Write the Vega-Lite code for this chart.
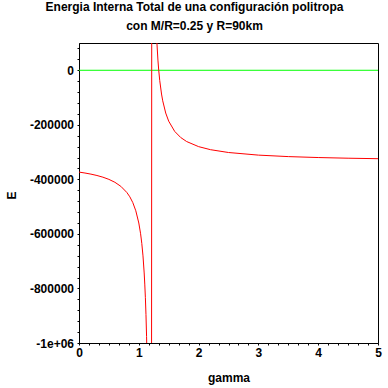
{
  "$schema": "https://vega.github.io/schema/vega-lite/v6.json",
  "width": 299,
  "height": 300,
  "autosize": {"type": "none"},
  "padding": {"left": 79, "top": 43, "right": 10, "bottom": 45},
  "background": "white",
  "config": {
    "view": {"stroke": "black", "strokeWidth": 1},
    "font": "Liberation Sans"
  },
  "title": {
    "text": ["Energia Interna Total de una configuración politropa", "con M/R=0.25 y R=90km"],
    "font": "Liberation Sans",
    "fontSize": 12,
    "fontWeight": "bold",
    "color": "black",
    "anchor": "middle",
    "dx": -34,
    "baseline": "bottom",
    "offset": -2.5,
    "lineHeight": 19
  },
  "resolve": {"axis": {"x": "independent", "y": "independent"}},
  "layer": [
    {
      "data": {"values": [{"E": 0}]},
      "mark": {"type": "rule", "color": "#00ff00", "strokeWidth": 1},
      "encoding": {
        "y": {"field": "E", "type": "quantitative", "scale": {"domain": [-1000000, 100000], "nice": false, "zero": false}, "axis": null}
      }
    },
    {
      "data": {"values": [
        {"gamma": 0, "E": -373333},
        {"gamma": 0.1, "E": -376727},
        {"gamma": 0.2, "E": -380800},
        {"gamma": 0.3, "E": -385778},
        {"gamma": 0.4, "E": -392000},
        {"gamma": 0.5, "E": -400000},
        {"gamma": 0.6, "E": -410667},
        {"gamma": 0.7, "E": -425600},
        {"gamma": 0.8, "E": -448000},
        {"gamma": 0.85, "E": -464000},
        {"gamma": 0.9, "E": -485333},
        {"gamma": 0.95, "E": -515200},
        {"gamma": 1.0, "E": -560000},
        {"gamma": 1.03, "E": -599529},
        {"gamma": 1.05, "E": -634667},
        {"gamma": 1.07, "E": -680615},
        {"gamma": 1.09, "E": -743273},
        {"gamma": 1.1, "E": -784000},
        {"gamma": 1.11, "E": -833778},
        {"gamma": 1.12, "E": -896000},
        {"gamma": 1.13, "E": -976000},
        {"gamma": 1.14, "E": -1082667},
        {"gamma": 1.16, "E": -1456000},
        {"gamma": 1.195, "E": -9296000},
        {"gamma": 1.22, "E": 1904000},
        {"gamma": 1.25, "E": 560000},
        {"gamma": 1.28, "E": 224000},
        {"gamma": 1.3, "E": 112000},
        {"gamma": 1.32, "E": 37333},
        {"gamma": 1.3333, "E": 0},
        {"gamma": 1.35, "E": -37333},
        {"gamma": 1.38, "E": -87111},
        {"gamma": 1.4, "E": -112000},
        {"gamma": 1.45, "E": -156800},
        {"gamma": 1.5, "E": -186667},
        {"gamma": 1.6, "E": -224000},
        {"gamma": 1.7, "E": -246400},
        {"gamma": 1.8, "E": -261333},
        {"gamma": 2.0, "E": -280000},
        {"gamma": 2.2, "E": -291200},
        {"gamma": 2.5, "E": -301538},
        {"gamma": 3.0, "E": -311111},
        {"gamma": 3.5, "E": -316522},
        {"gamma": 4.0, "E": -320000},
        {"gamma": 4.5, "E": -322424},
        {"gamma": 5.0, "E": -324211}
      ]},
      "mark": {"type": "line", "color": "#ff0000", "strokeWidth": 1, "clip": true},
      "encoding": {
        "x": {
          "field": "gamma", "type": "quantitative",
          "scale": {"domain": [0, 5], "nice": false, "zero": false},
          "axis": {
            "title": "gamma",
            "values": [0, 0.1667, 0.3333, 0.5, 0.6667, 0.8333, 1, 1.1667, 1.3333, 1.5, 1.6667, 1.8333, 2, 2.1667, 2.3333, 2.5, 2.6667, 2.8333, 3, 3.1667, 3.3333, 3.5, 3.6667, 3.8333, 4, 4.1667, 4.3333, 4.5, 4.6667, 4.8333, 5],
            "labelExpr": "abs(datum.value - round(datum.value)) < 0.001 ? format(round(datum.value), 'd') : ''",
            "grid": false,
            "tickSize": 2,
            "tickColor": "black",
            "domainColor": "black",
            "labelFont": "Liberation Sans",
            "labelFontWeight": "bold",
            "labelFontSize": 12,
            "labelColor": "black",
            "labelPadding": 2,
            "labelFlush": false,
            "labelOverlap": false,
            "titleFont": "Liberation Sans",
            "titleFontWeight": "bold",
            "titleFontSize": 12,
            "titleColor": "black",
            "titleX": 149.5,
            "titleY": 38.7,
            "titleBaseline": "alphabetic",
            "titleAlign": "center"
          }
        },
        "y": {
          "field": "E", "type": "quantitative",
          "scale": {"domain": [-1000000, 100000], "nice": false, "zero": false},
          "axis": {
            "title": "E",
            "values": [-1000000, -960000, -920000, -880000, -840000, -800000, -760000, -720000, -680000, -640000, -600000, -560000, -520000, -480000, -440000, -400000, -360000, -320000, -280000, -240000, -200000, -160000, -120000, -80000, -40000, 0, 40000, 80000],
            "labelExpr": "datum.value % 200000 == 0 ? (datum.value == -1000000 ? '-1e+06' : '' + datum.value) : ''",
            "grid": false,
            "tickSize": 2,
            "tickColor": "black",
            "domainColor": "black",
            "labelFont": "Liberation Sans",
            "labelFontWeight": "bold",
            "labelFontSize": 12,
            "labelColor": "black",
            "labelPadding": 3.5,
            "labelBaseline": "middle",
            "labelFlush": false,
            "labelOverlap": false,
            "titleFont": "Liberation Sans",
            "titleFontWeight": "bold",
            "titleFontSize": 12,
            "titleColor": "black",
            "titleX": -68,
            "titleY": 152,
            "titleAngle": 270,
            "titleBaseline": "middle",
            "titleAlign": "center"
          }
        }
      }
    }
  ]
}
